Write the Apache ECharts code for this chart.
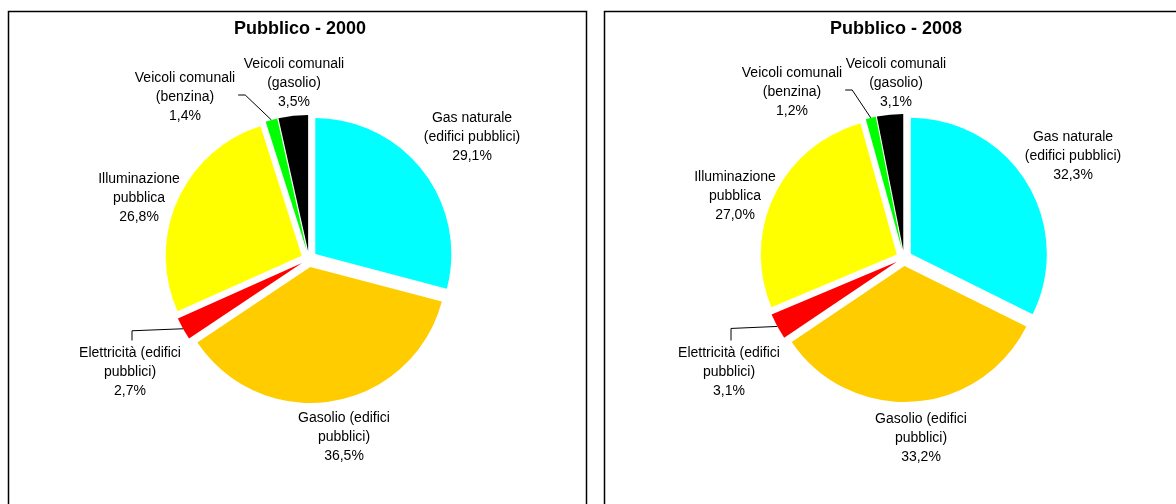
<!DOCTYPE html>
<html>
<head>
<meta charset="utf-8">
<script src="https://cdn.jsdelivr.net/npm/echarts@6/dist/echarts.min.js"></script>
<style>
  html, body { margin: 0; padding: 0; background: #fff; }
  #main { width: 1176px; height: 504px; }
</style>
</head>
<body>
<div id="main"></div>
<script>
// categorie (stesso ordine in entrambi i grafici, partendo da ore 12 in senso orario)
const categories = [
  'Gas naturale (edifici pubblici)',
  'Gasolio (edifici pubblici)',
  'Elettricità (edifici pubblici)',
  'Illuminazione pubblica',
  'Veicoli comunali (benzina)',
  'Veicoli comunali (gasolio)'
];
// testo delle etichette, a capo come nell'originale
const labelNames = [
  'Gas naturale\n(edifici pubblici)',
  'Gasolio (edifici\npubblici)',
  'Elettricità (edifici\npubblici)',
  'Illuminazione\npubblica',
  'Veicoli comunali\n(benzina)',
  'Veicoli comunali\n(gasolio)'
];
const values2000 = [29.1, 36.5, 2.7, 26.8, 1.4, 3.5];
const values2008 = [32.3, 33.2, 3.1, 27.0, 1.2, 3.1];
const titles = ['Pubblico - 2000', 'Pubblico - 2008'];

const colors = ['#00ffff', '#ffcc00', '#ff0000', '#ffff00', '#00ff00', '#000000'];
const FONT = '"Liberation Sans", Arial, sans-serif';
const R = 136;
const OFFSET = 8;
// fette con linea di richiamo
const leaderItems = [2, 4];

// posizione dei riquadri e delle etichette (offset dal centro della torta)
const panels = [
  {
    x: 8, center: [309, 259], values: values2000, title: titles[0],
    labelPos: [[163, -122], [35, 178], [-179, 113], [-170, -61], [-124, -162], [-15, -176]]
  },
  {
    x: 604, center: [904, 258], values: values2008, title: titles[1],
    labelPos: [[169, -102], [17, 180], [-175, 114], [-169, -62], [-112, -166], [-8, -175]]
  }
];
const PANEL_W = 578;

function fmt(v) {
  return v.toFixed(1).replace('.', ',') + '%';
}

// angolo medio della fetta (radianti, da ore 12 in senso orario)
function midAngle(p, i) {
  const total = p.values.reduce((a, b) => a + b, 0);
  let cum = 0;
  for (let k = 0; k < i; k++) cum += p.values[k];
  return (cum + p.values[i] / 2) / total * Math.PI * 2;
}

function makeLayout(p) {
  return function (params) {
    const i = params.dataIndex;
    const a = midAngle(p, i);
    const sin = Math.sin(a), cos = Math.cos(a);
    // spostamento della fetta staccata (stato "select")
    const sx = OFFSET * sin, sy = -OFFSET * cos;
    // ancoraggio di default dell'etichetta esterna (length = length2 = 0)
    const ax = p.center[0] + R * sin + sx;
    const ay = p.center[1] - R * cos + sy;
    const x = p.center[0] + p.labelPos[i][0];
    const y = p.center[1] + p.labelPos[i][1];
    const w = params.labelRect.width;
    const h = params.labelRect.height;
    const out = { dx: x - ax, dy: y - ay, align: 'center', verticalAlign: 'middle' };
    if (leaderItems.indexOf(i) >= 0) {
      const end = [p.center[0] + (R + OFFSET) * sin, p.center[1] - (R + OFFSET) * cos];
      let pts;
      if (i === 2) {
        const top = y - h / 2 - 3;
        pts = [[x + 2, top], [x + 2, end[1] + 2], end];
      } else {
        const lx = x + w / 2 + 3, ly = y - 2;
        pts = [[lx, ly], [lx + 7, ly], end];
      }
      out.labelLinePoints = pts.map(q => [q[0] - sx, q[1] - sy]);
    }
    return out;
  };
}

const chart = echarts.init(document.getElementById('main'));

const graphic = [];
panels.forEach(p => {
  graphic.push({
    type: 'rect',
    shape: { x: p.x + 0.5, y: 11.5, width: PANEL_W, height: 520 },
    style: { fill: 'none', stroke: '#000', lineWidth: 1.5 },
    silent: true
  });
  graphic.push({
    type: 'text',
    x: p.x + PANEL_W / 2 + 3,
    y: 29,
    style: {
      text: p.title,
      font: 'bold 18px ' + FONT,
      fill: '#000',
      align: 'center',
      verticalAlign: 'middle'
    },
    silent: true
  });
});

const series = panels.map(p => ({
  type: 'pie',
  center: p.center,
  radius: R,
  startAngle: 90,
  clockwise: true,
  selectedMode: 'multiple',
  selectedOffset: OFFSET,
  avoidLabelOverlap: false,
  animation: false,
  silent: true,
  emphasis: { disabled: true },
  itemStyle: { borderWidth: 0 },
  label: {
    show: true,
    position: 'outside',
    alignTo: 'none',
    distanceToLabelLine: 0,
    color: '#000',
    fontFamily: FONT,
    fontSize: 14,
    lineHeight: 19,
    align: 'center',
    formatter: params => labelNames[params.dataIndex] + '\n' + fmt(params.value)
  },
  labelLine: { show: false, length: 0, length2: 0, lineStyle: { color: '#000', width: 1 } },
  labelLayout: makeLayout(p),
  data: p.values.map((v, i) => ({
    name: categories[i],
    value: v,
    selected: true,
    itemStyle: { color: colors[i] },
    select: { itemStyle: { color: colors[i] } },
    labelLine: { show: leaderItems.indexOf(i) >= 0 }
  }))
}));

chart.setOption({
  backgroundColor: '#fff',
  animation: false,
  graphic: graphic,
  series: series
});
</script>
</body>
</html>
